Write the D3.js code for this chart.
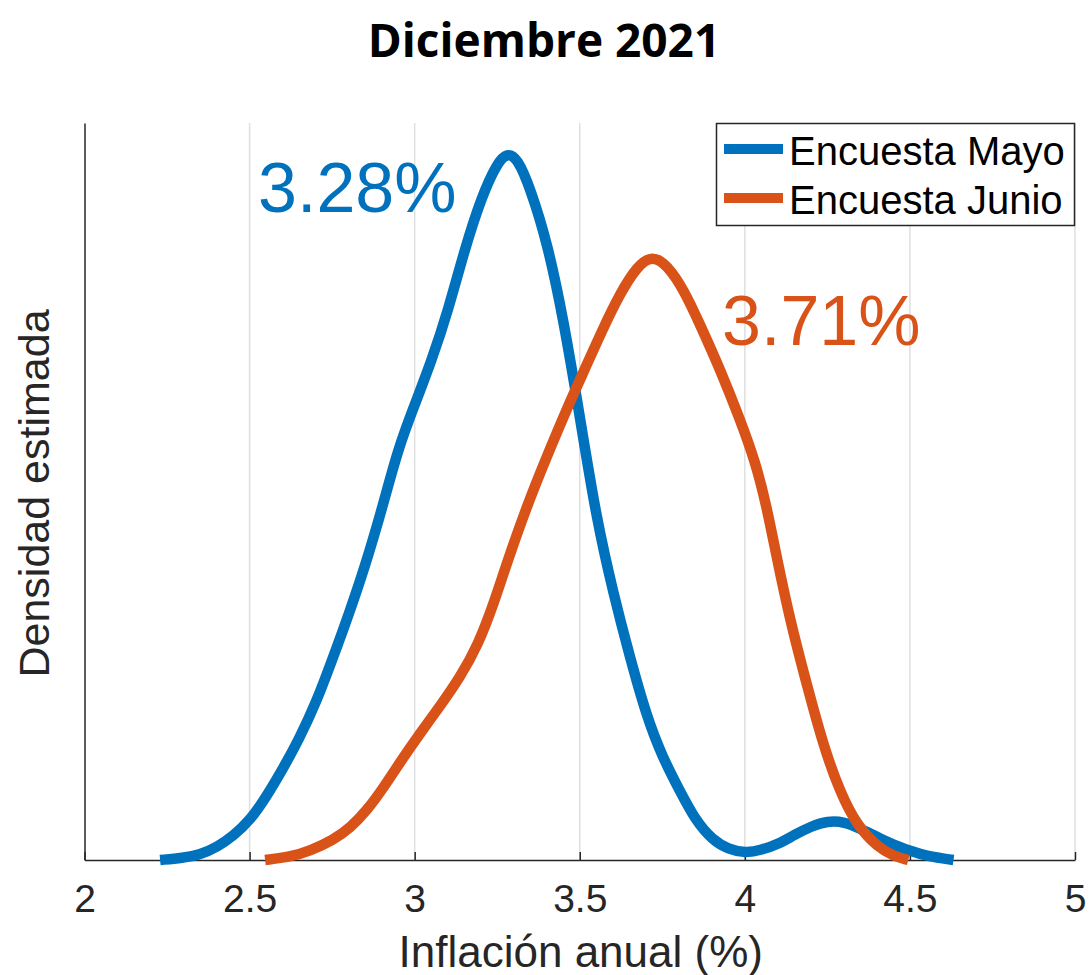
<!DOCTYPE html>
<html>
<head>
<meta charset="utf-8">
<script src="https://cdn.jsdelivr.net/npm/d3@7"></script>
<style>
  html, body { margin: 0; padding: 0; background: #fff; }
  svg { display: block; }
</style>
</head>
<body>
<svg id="chart" width="1091" height="975"></svg>
<script>
// ---------------- data ----------------
const titleText = "Diciembre 2021";
const xLabel = "Inflación anual (%)";
const yLabel = "Densidad estimada";
const seriesNames = ["Encuesta Mayo", "Encuesta Junio"];
const seriesColors = ["#0072BD", "#D95319"];
const xTicks = [2, 2.5, 3, 3.5, 4, 4.5, 5];
const xTickLabels = ["2", "2.5", "3", "3.5", "4", "4.5", "5"];
const modeLabels = ["3.28%", "3.71%"];

// Encuesta Mayo: inflation (x) and estimated density (y)
const mayoX = [2.229, 2.298, 2.350, 2.402, 2.450, 2.502, 2.550, 2.602, 2.650, 2.702, 2.750, 2.802, 2.850, 2.902, 2.950, 3.002, 3.050, 3.102, 3.150, 3.202, 3.250, 3.280, 3.311, 3.350, 3.402, 3.450, 3.502, 3.550, 3.602, 3.650, 3.702, 3.750, 3.802, 3.850, 3.902, 3.950, 4.002, 4.050, 4.102, 4.150, 4.202, 4.250, 4.302, 4.350, 4.402, 4.450, 4.502, 4.550, 4.632];
const mayoY = [0.000, 0.005, 0.012, 0.030, 0.055, 0.092, 0.145, 0.212, 0.279, 0.364, 0.461, 0.570, 0.678, 0.812, 0.950, 1.054, 1.149, 1.269, 1.405, 1.529, 1.608, 1.631, 1.619, 1.550, 1.423, 1.250, 1.015, 0.789, 0.614, 0.473, 0.332, 0.238, 0.161, 0.092, 0.046, 0.025, 0.016, 0.023, 0.037, 0.058, 0.078, 0.090, 0.088, 0.072, 0.053, 0.035, 0.021, 0.009, 0.000];

// Encuesta Junio
const junioX = [2.547, 2.623, 2.683, 2.753, 2.805, 2.856, 2.905, 2.956, 3.017, 3.077, 3.138, 3.192, 3.238, 3.280, 3.341, 3.402, 3.462, 3.517, 3.571, 3.623, 3.674, 3.720, 3.765, 3.814, 3.865, 3.926, 3.986, 4.032, 4.065, 4.095, 4.138, 4.189, 4.238, 4.289, 4.341, 4.402, 4.450, 4.495];
const junioY = [0.000, 0.007, 0.021, 0.046, 0.074, 0.115, 0.166, 0.226, 0.293, 0.355, 0.422, 0.496, 0.588, 0.687, 0.819, 0.934, 1.043, 1.135, 1.227, 1.308, 1.370, 1.395, 1.372, 1.317, 1.234, 1.130, 1.015, 0.918, 0.819, 0.704, 0.549, 0.401, 0.263, 0.155, 0.078, 0.030, 0.009, 0.000];

// ---------------- layout ----------------
const svg = d3.select("#chart");
const pL = 84.5, pR = 1075, pT = 123, pB = 860;
const x = d3.scaleLinear().domain([2, 5]).range([pL, pR]);
const y = d3.scaleLinear().domain([0, 1.7]).range([pB, pT]);
const axisColor = "#262626";
const font = "'Liberation Sans', Arial, Helvetica, sans-serif";

// grid
svg.append("g").selectAll("line").data(xTicks.slice(1)).join("line")
  .attr("x1", d => x(d)).attr("x2", d => x(d))
  .attr("y1", pT).attr("y2", pB)
  .attr("stroke", "#dfdfdf").attr("stroke-width", 1.5);

// axes
const xAxis = d3.axisBottom(x).tickValues(xTicks).tickFormat((d, i) => xTickLabels[i]).tickSizeInner(-8).tickSizeOuter(0).tickPadding(24);
const gx = svg.append("g").attr("transform", `translate(0,${pB})`).call(xAxis);
gx.select(".domain").attr("stroke", axisColor).attr("stroke-width", 1.5);
gx.selectAll(".tick line").attr("stroke", axisColor).attr("stroke-width", 1.5);
gx.selectAll(".tick text").attr("fill", axisColor).attr("font-family", font).attr("font-size", 39).attr("dy", "0.71em");

const yAxis = d3.axisLeft(y).tickValues([]).tickSizeOuter(0);
const gy = svg.append("g").attr("transform", `translate(${pL},0)`).call(yAxis);
gy.select(".domain").attr("stroke", axisColor).attr("stroke-width", 1.5);

// labels
svg.append("text").attr("x", (pL + pR) / 2 + 1).attr("y", 967)
  .attr("text-anchor", "middle").attr("font-family", font).attr("font-size", 44)
  .attr("fill", axisColor).text(xLabel);
svg.append("text").attr("transform", `translate(49,${(pT + pB) / 2 + 2}) rotate(-90)`)
  .attr("text-anchor", "middle").attr("font-family", font).attr("font-size", 43)
  .attr("fill", axisColor).text(yLabel);
svg.append("text").attr("x", 544).attr("y", 57)
  .attr("text-anchor", "middle").attr("font-family", "'Open Sans', sans-serif").attr("font-weight", "bold")
  .attr("font-size", 46).attr("fill", "#000").text(titleText);

// curves
const series = [
  mayoX.map((d, i) => [d, mayoY[i]]),
  junioX.map((d, i) => [d, junioY[i]])
];
const line = d3.line().x(d => x(d[0])).y(d => y(d[1])).curve(d3.curveBasis);
svg.append("g").selectAll("path").data(series).join("path")
  .attr("d", line).attr("fill", "none")
  .attr("stroke", (d, i) => seriesColors[i]).attr("stroke-width", 10.5)
  .attr("stroke-linejoin", "round").attr("stroke-linecap", "butt");

// mode annotations
svg.append("text").attr("x", 258).attr("y", 212).attr("font-family", font).attr("font-size", 70)
  .attr("fill", seriesColors[0]).text(modeLabels[0]);
svg.append("text").attr("x", 722).attr("y", 345).attr("font-family", font).attr("font-size", 70)
  .attr("fill", seriesColors[1]).text(modeLabels[1]);

// legend
const lg = svg.append("g");
lg.append("rect").attr("x", 716.5).attr("y", 123.5).attr("width", 358).attr("height", 102)
  .attr("fill", "#fff").attr("stroke", axisColor).attr("stroke-width", 1.5);
seriesNames.forEach((name, i) => {
  const yy = 149 + i * 49;
  lg.append("line").attr("x1", 724).attr("x2", 783).attr("y1", yy).attr("y2", yy)
    .attr("stroke", seriesColors[i]).attr("stroke-width", 10);
  lg.append("text").attr("x", 789).attr("y", yy + 15.5).attr("font-family", font).attr("font-size", 40)
    .attr("fill", "#000").text(name);
});
</script>
</body>
</html>
